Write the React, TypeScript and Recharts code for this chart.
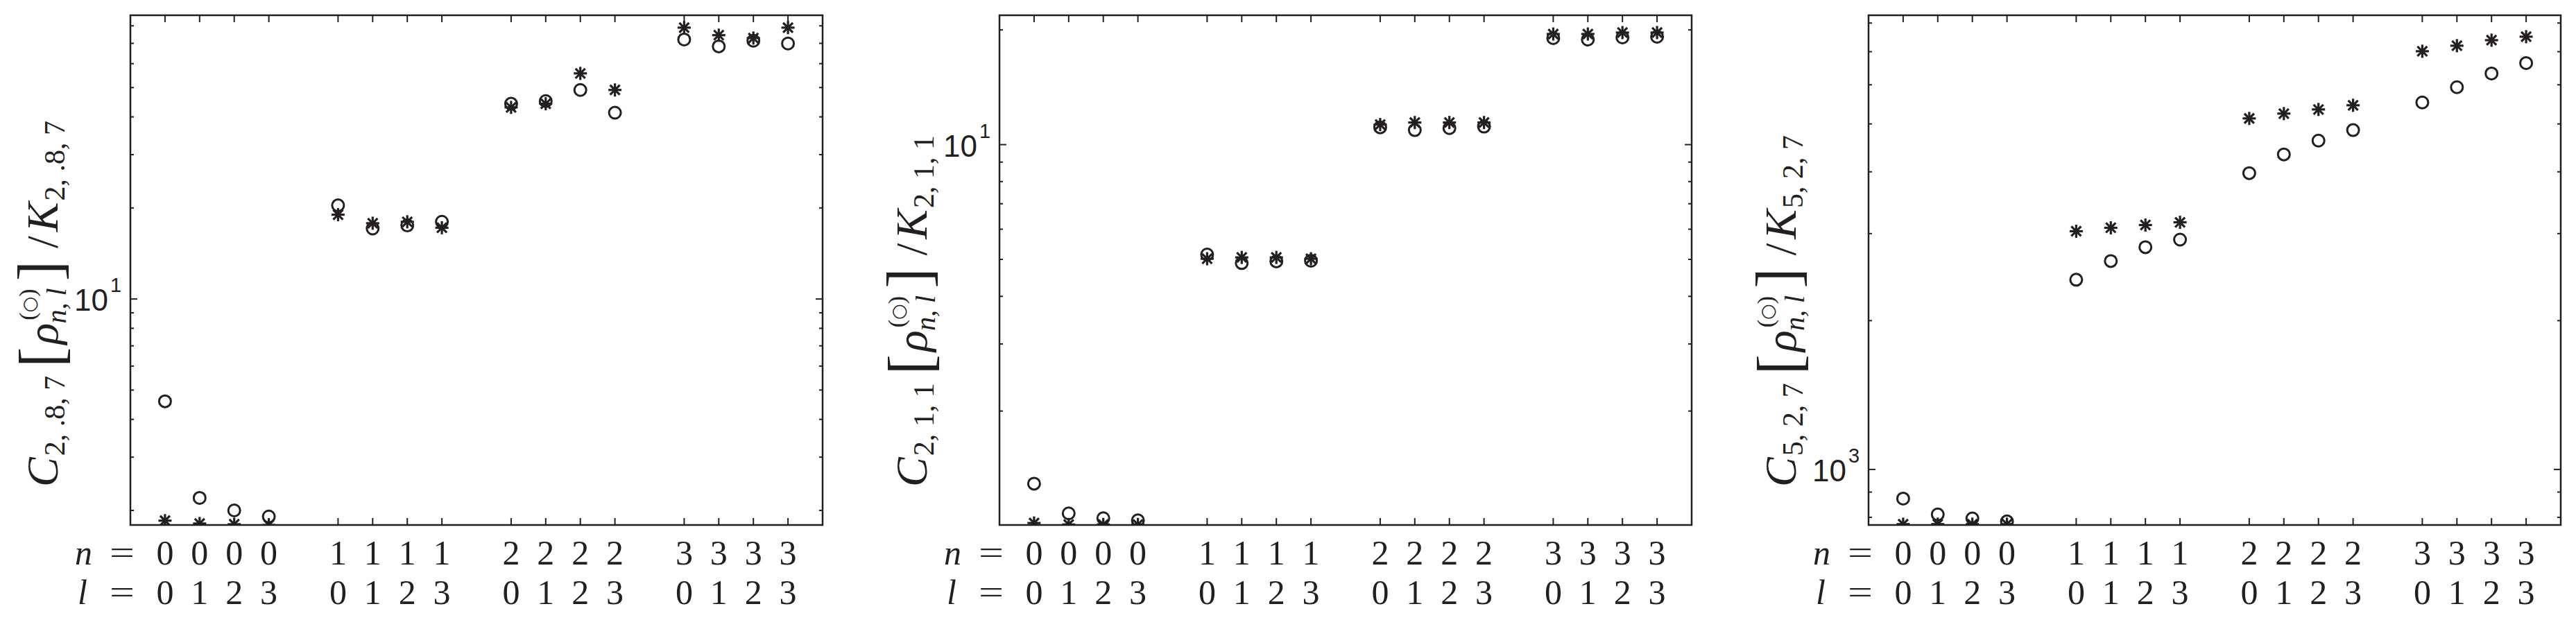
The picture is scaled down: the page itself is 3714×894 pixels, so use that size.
import { ScatterChart, Scatter, XAxis, YAxis, ReferenceArea } from 'recharts'

// x positions of the (n, l) columns, with a gap between n groups
const xPos = [1, 2, 3, 4, 6, 7, 8, 9, 11, 12, 13, 14, 16, 17, 18, 19]
const nLabels = ['0', '0', '0', '0', '1', '1', '1', '1', '2', '2', '2', '2', '3', '3', '3', '3']
const lLabels = ['0', '1', '2', '3', '0', '1', '2', '3', '0', '1', '2', '3', '0', '1', '2', '3']

// panel 1: C_{2,.8,7}
const circ1 = [4.59, 2.2, 2.0, 1.91, 20.4, 17.1, 17.5, 18.0, 44.2, 45.1, 49.1, 41.3, 72.1, 68.4, 71.4, 69.9]
const star1 = [1.85, 1.81, 1.8, 1.79, 19.0, 17.8, 18.0, 17.2, 43.0, 44.2, 55.7, 49.1, 78.9, 74.5, 72.9, 78.9]
const ticks1 = [2, 3, 4, 5, 6, 7, 8, 9, 10, 20, 30, 40, 50, 60, 70, 80]

// panel 2: C_{2,1,1}
const circ2 = [1.29, 1.078, 1.047, 1.034, 5.15, 4.89, 4.94, 4.96, 11.1, 10.92, 11.05, 11.15, 19.03, 18.87, 19.11, 19.19]
const star2 = [1.017, 1.008, 1.008, 1.008, 5.02, 5.06, 5.06, 5.02, 11.29, 11.43, 11.43, 11.43, 19.51, 19.51, 19.68, 19.68]
const ticks2 = [2, 3, 4, 5, 6, 7, 8, 9, 10, 20]

// panel 3: C_{5,2,7}
const circ3 = [873, 811, 796, 785, 2420, 2640, 2816, 2917, 3976, 4338, 4627, 4858, 5525, 5932, 6325, 6639]
const star3 = [775, 775, 775, 775, 3033, 3082, 3122, 3162, 5130, 5247, 5349, 5454, 7015, 7198, 7386, 7507]
const ticks3 = [800, 900, 1000, 2000, 3000, 4000, 5000, 6000, 7000, 8000]

const INK = '#231f20'
const PL = 188
const PW = 998
const PT = 22
const PB = 757
const PR = PL + PW
const CHART_W = 1208
const CHART_H = 894
const SERIF = { fontFamily: 'Liberation Serif, DejaVu Serif, serif' }
const SANS = { fontFamily: 'Liberation Sans, Arial, sans-serif' }

const Ring = (p: any) => (
  <circle cx={p.cx} cy={p.cy} r={8.5} fill="none" stroke={INK} strokeWidth={3} />
)

const Star = (p: any) => {
  const { cx, cy } = p
  const a = 9.5
  const d = 7
  return (
    <g stroke={INK} strokeWidth={3.2} strokeLinecap="butt">
      <line x1={cx} y1={cy - a} x2={cx} y2={cy + a} />
      <line x1={cx - a} y1={cy} x2={cx + a} y2={cy} />
      <line x1={cx - d} y1={cy - d} x2={cx + d} y2={cy + d} />
      <line x1={cx - d} y1={cy + d} x2={cx + d} y2={cy - d} />
    </g>
  )
}

function YLabel({ sub }: { sub: string }) {
  return (
    <text
      transform={`translate(${PL - 105} 702) rotate(-90)`}
      style={SERIF}
      fontSize={64}
      fill={INK}
    >
      <tspan fontStyle="italic">C</tspan>
      <tspan fontSize={42} dy={10} dx={2}>{sub}</tspan>
      <tspan fontSize={88} dy={-4} dx={12}>[</tspan>
      <tspan fontStyle="italic" dy={-6} dx={4}>ρ</tspan>
      <tspan fontSize={34} dy={-32} dx={4}>(</tspan>
      <tspan fontSize={26} style={{ fontFamily: 'DejaVu Sans, sans-serif' }}>○</tspan>
      <tspan fontSize={34}>)</tspan>
      <tspan fontSize={40} fontStyle="italic" dx={-50} dy={44}>n, l</tspan>
      <tspan fontSize={88} dy={-8} dx={10}>]</tspan>
      <tspan dy={-4} dx={18}>/</tspan>
      <tspan fontStyle="italic" dx={6}>K</tspan>
      <tspan fontSize={42} dy={10} dx={2}>{sub}</tspan>
    </text>
  )
}

function Panel({ circ, star, ticks, major, domain, sub }: {
  circ: number[]
  star: number[]
  ticks: number[]
  major: number
  domain: [number, number]
  sub: string
}) {
  const circData = xPos.map((x, i) => ({ x, y: circ[i] }))
  const starData = xPos.map((x, i) => ({ x, y: star[i] }))
  const exp = Math.round(Math.log10(major))

  const XTick = (p: any) => {
    const v = p.payload.value
    const i = xPos.indexOf(v)
    const x = p.x
    return (
      <g>
        <line x1={x} y1={PB} x2={x} y2={PB - 10} stroke={INK} strokeWidth={2} />
        <line x1={x} y1={PT} x2={x} y2={PT + 10} stroke={INK} strokeWidth={2} />
        <text x={x} y={814} textAnchor="middle" style={SERIF} fontSize={50} fill={INK}>{nLabels[i]}</text>
        <text x={x} y={871} textAnchor="middle" style={SERIF} fontSize={50} fill={INK}>{lLabels[i]}</text>
        {i === 0 && (
          <g style={SERIF} fill={INK}>
            <text x={PL - 80} y={814} fontSize={50} fontStyle="italic">n</text>
            <text x={PL - 30} y={812} fontSize={46} textLength={36} lengthAdjust="spacingAndGlyphs">=</text>
            <text x={PL - 76} y={871} fontSize={50} fontStyle="italic">l</text>
            <text x={PL - 30} y={869} fontSize={46} textLength={36} lengthAdjust="spacingAndGlyphs">=</text>
            <YLabel sub={sub} />
          </g>
        )}
      </g>
    )
  }

  const YTick = (p: any) => {
    const v = p.payload.value
    const y = p.y
    const isMajor = v === major
    const len = isMajor ? 10 : 5
    return (
      <g>
        <line x1={PL} y1={y} x2={PL + len} y2={y} stroke={INK} strokeWidth={2} />
        <line x1={PR - len} y1={y} x2={PR} y2={y} stroke={INK} strokeWidth={2} />
        {isMajor && (
          <g style={SANS} fill={INK}>
            <text x={PL - 32} y={y + 17} textAnchor="end" fontSize={44}>10</text>
            <text x={PL - 29} y={y - 10} fontSize={29}>{exp}</text>
          </g>
        )}
      </g>
    )
  }

  return (
    <ScatterChart
      width={CHART_W}
      height={CHART_H}
      margin={{ top: PT, right: CHART_W - PR, bottom: CHART_H - PB - 100, left: PL - 60 }}
    >
      <XAxis
        type="number"
        dataKey="x"
        domain={[0, 20]}
        ticks={xPos}
        interval={0}
        height={100}
        axisLine={false}
        tickLine={false}
        tick={XTick}
      />
      <YAxis
        type="number"
        dataKey="y"
        scale="log"
        domain={domain}
        allowDataOverflow
        ticks={ticks}
        interval={0}
        width={60}
        axisLine={false}
        tickLine={false}
        tick={YTick}
      />
      <ReferenceArea
        x1={0}
        x2={20}
        y1={domain[0]}
        y2={domain[1]}
        fill="none"
        stroke={INK}
        strokeWidth={2.5}
        ifOverflow="visible"
      />
      <Scatter data={circData} shape={Ring} isAnimationActive={false} />
      <Scatter data={starData} shape={Star} isAnimationActive={false} />
    </ScatterChart>
  )
}

export default function App() {
  return (
    <div style={{ position: 'absolute', left: 0, top: 0, width: 3714, height: 894, background: '#fff' }}>
      <div style={{ position: 'absolute', left: 0, top: 0 }}>
        <Panel circ={circ1} star={star1} ticks={ticks1} major={10} domain={[1.79, 86.7]} sub="2, .8, 7" />
      </div>
      <div style={{ position: 'absolute', left: 1253, top: 0 }}>
        <Panel circ={circ2} star={star2} ticks={ticks2} major={10} domain={[1.005, 21.85]} sub="2, 1, 1" />
      </div>
      <div style={{ position: 'absolute', left: 2506, top: 0 }}>
        <Panel circ={circ3} star={star3} ticks={ticks3} major={1000} domain={[772, 8295]} sub="5, 2, 7" />
      </div>
    </div>
  )
}
